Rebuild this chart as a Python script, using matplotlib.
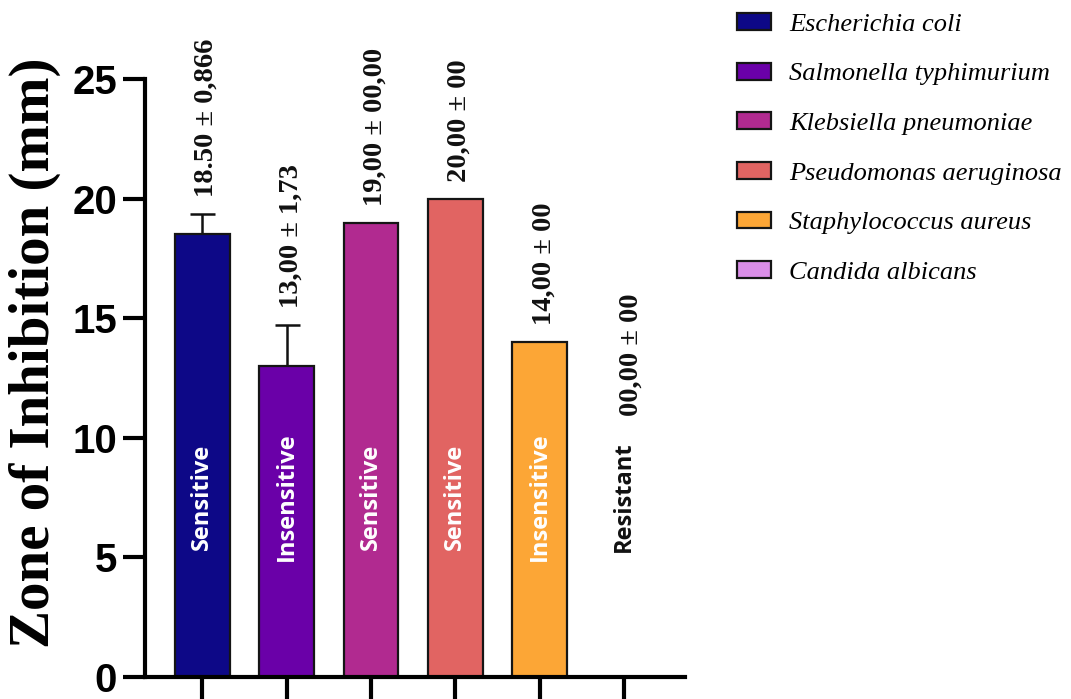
import numpy as np
import matplotlib.pyplot as plt

organisms = [
    "Escherichia coli",
    "Salmonella typhimurium",
    "Klebsiella pneumoniae",
    "Pseudomonas aeruginosa",
    "Staphylococcus aureus",
    "Candida albicans",
]
zone_mm = [18.5, 13.0, 19.0, 20.0, 14.0, 0.0]
zone_sd = [0.866, 1.73, 0.0, 0.0, 0.0, 0.0]
value_labels = [
    "18.50 ± 0,866",
    "13,00 ± 1,73",
    "19,00 ± 00,00",
    "20,00 ± 00",
    "14,00 ± 00",
    "00,00 ± 00",
]
status = ["Sensitive", "Insensitive", "Sensitive", "Sensitive", "Insensitive", "Resistant"]
colors = ["#0d0887", "#6a00a8", "#b12a90", "#e16462", "#fca636", "#da8ee8"]
y_ticks = [0, 5, 10, 15, 20, 25]

serif = "Liberation Serif"
sans = "Liberation Sans"

fig = plt.figure(figsize=(10.71, 6.99), dpi=100)
ax = fig.add_axes([0.1354, 0.0315, 0.504, 0.8555])

x = np.arange(len(organisms))
bars = ax.bar(x, zone_mm, width=0.65, color=colors, edgecolor="#151515",
              linewidth=1.6, label=organisms, zorder=2)

# only upper error bars
err_x = [xi for xi, s in zip(x, zone_sd) if s > 0]
err_y = [v for v, s in zip(zone_mm, zone_sd) if s > 0]
err_s = [s for s in zone_sd if s > 0]
ax.errorbar(err_x, err_y, yerr=[np.zeros(len(err_s)), err_s], fmt="none",
            ecolor="#111111", elinewidth=1.8, capsize=9, capthick=1.8, zorder=1)

for xi, v, s, lab, st in zip(x, zone_mm, zone_sd, value_labels, status):
    if v > 0:
        ax.annotate(lab, (xi, v + s), xytext=(3, 12), textcoords="offset points",
                    rotation=90, ha="center", va="bottom", fontsize=20.5,
                    fontweight="bold", family=serif, color="#111111")
        txt_color = "white"
    else:
        ax.annotate(lab, (xi, 10.9), xytext=(5, 0), textcoords="offset points",
                    rotation=90, ha="center", va="bottom", fontsize=20.5,
                    fontweight="bold", family=serif, color="#111111")
        txt_color = "#111111"
    ax.text(xi, 7.55, st, rotation=90, ha="center", va="center", fontsize=17,
            fontweight="bold", family="Open Sans", color=txt_color, zorder=3)

ax.set_xlim(-0.68, 5.72)
ax.set_ylim(0, 25)
ax.set_yticks(y_ticks)
ax.set_xticks(x)
ax.set_xticklabels([])
ax.set_yticklabels([str(t) for t in y_ticks], fontsize=29, fontweight="bold",
                   family=sans)

for side in ["top", "right"]:
    ax.spines[side].set_visible(False)
for side in ["left", "bottom"]:
    ax.spines[side].set_linewidth(3)
ax.tick_params(axis="both", width=3, length=16, color="black")
ax.tick_params(axis="y", pad=4)

ax.set_ylabel("Zone of Inhibition (mm)", fontsize=41, fontweight="bold", family=serif)
ax.yaxis.set_label_coords(-0.155, 0.543)

leg = fig.legend(handles=bars.patches, labels=organisms, loc="upper left",
                 bbox_to_anchor=(0.6755, 1.0), frameon=False,
                 prop={"family": serif, "style": "italic", "size": 19},
                 handlelength=1.3, handleheight=0.6, handletextpad=0.7,
                 labelspacing=1.02, borderaxespad=0.1)

fig.savefig("out.png", dpi=100)
